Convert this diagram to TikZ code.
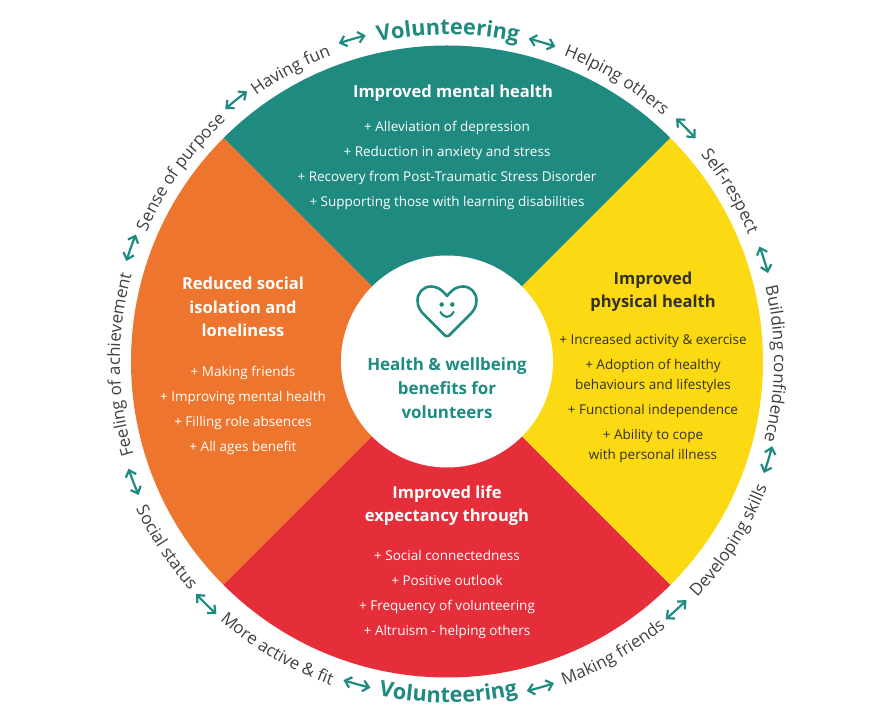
\documentclass[tikz,border=0pt]{standalone}
\usepackage{fontspec}
\setmainfont{Open Sans}
\usetikzlibrary{decorations.text,arrows.meta}

\definecolor{wheelteal}{HTML}{1F8A80}
\definecolor{wheelorange}{HTML}{EE752D}
\definecolor{wheelyellow}{HTML}{FBD913}
\definecolor{wheelred}{HTML}{E62E3A}
\definecolor{ringgrey}{HTML}{404040}
\definecolor{yellowink}{HTML}{33302A}

\newcommand{\ringfont}{\fontsize{17}{20}\selectfont\color{ringgrey}}
\newcommand{\volfont}{\fontsize{21.7}{24}\selectfont\bfseries\color{wheelteal}}
% text running clockwise over the top half, anticlockwise under the bottom half
\newcommand{\ringover}[3]{\path[decorate,decoration={text along path,text align=center,text={|#3|#2}}] (#1+70:327pt) arc (#1+70:#1-70:327pt);}
\newcommand{\ringunder}[4][344]{\path[decorate,decoration={text along path,text align=center,text={|#4|#3}}] (#2-70:#1pt) arc (#2-70:#2+70:#1pt);}

\begin{document}
\begin{tikzpicture}[
        x=1pt, y=1pt,
        headtext/.style={align=center, font=\fontsize{16.5}{23.5}\selectfont\bfseries},
        listtext/.style={align=center, font=\fontsize{13.5}{20}\selectfont},
        looselist/.style={listtext, font=\fontsize{13.5}{25}\selectfont},
        ringarrow/.style={draw=wheelteal, line width=2.2pt, {Straight Barb[length=6pt,width=11pt]}-{Straight Barb[length=6pt,width=11pt]}},
    ]
    \useasboundingbox (-447,-355.5) rectangle (424,361.5);

    % the four quarters
    \fill[wheelteal] (0,0) -- (45:316pt) arc (45:135:316pt) -- cycle;
    \fill[wheelorange] (0,0) -- (135:316pt) arc (135:225:316pt) -- cycle;
    \fill[wheelred] (0,0) -- (225:316pt) arc (225:315:316pt) -- cycle;
    \fill[wheelyellow] (0,0) -- (-45:316pt) arc (-45:45:316pt) -- cycle;
    \fill[white] (0,0) circle (106pt);

    % heart
    \draw[wheelteal, line width=2.6pt, line join=round]
        (0,65.5) .. controls (6,73) and (11,75) .. (16,75)
        .. controls (24,75) and (29.5,68.5) .. (29.5,61)
        .. controls (29.5,54) and (26,50) .. (23,47) -- (2,26)
        .. controls (1,25) and (-1,25) .. (-2,26) -- (-23,47)
        .. controls (-26,50) and (-29.5,54) .. (-29.5,61)
        .. controls (-29.5,68.5) and (-24,75) .. (-16,75)
        .. controls (-11,75) and (-6,73) .. cycle;
    \fill[wheelteal] (-5.3,57) circle (2.3pt) (5.3,57) circle (2.3pt);
    \draw[wheelteal, line width=2.2pt, line cap=round] (-6.5,49.5) .. controls (-3,43) and (3,43) .. (6.5,49.5);

    \node[headtext, text=wheelteal, font=\fontsize{16.9}{24}\selectfont\bfseries] (centre) at (0,-26.5) {Health \& wellbeing\\benefits for\\volunteers};

    \node[headtext, text=white] (mentaltitle) at (6,268) {Improved mental health};
    \node[looselist, text=white] (mentallist) at (0,196.5) {+ Alleviation of depression\\+ Reduction in anxiety and stress\\+ Recovery from Post-Traumatic Stress Disorder\\+ Supporting those with learning disabilities};

    \node[headtext, text=yellowink] (physicaltitle) at (206,70) {Improved\\physical health};
    \node[listtext, text=yellowink] (physicallist) at (206,-36.5) {+ Increased activity \& exercise\\[5pt]+ Adoption of healthy\\behaviours and lifestyles\\[5pt]+ Functional independence\\[5pt]+ Ability to cope\\with personal illness};

    \node[headtext, text=white] (lonelytitle) at (-204,54.5) {Reduced social\\isolation and\\loneliness};
    \node[looselist, text=white] (lonelylist) at (-204,-49) {+ Making friends\\+ Improving mental health\\+ Filling role absences\\+ All ages benefit};

    \node[headtext, text=white] (lifetitle) at (0,-144) {Improved life\\expectancy through};
    \node[looselist, text=white] (lifelist) at (0,-232.5) {+ Social connectedness\\+ Positive outlook\\+ Frequency of volunteering\\+ Altruism - helping others};

    % ring of words
    \ringover{89.8}{Volunteering}{\volfont}
    \ringunder[341]{270.2}{Volunteering}{\volfont}
    \ringover{118.2}{Having fun}{\ringfont}
    \ringover{58.9}{Helping others}{\ringfont}
    \ringover{144.6}{Sense of purpose}{\ringfont}
    \ringover{31}{Self-respect}{\ringfont}
    \ringover{180.6}{Feeling of achievement}{\ringfont}
    \ringover{-0.4}{Building confidence}{\ringfont}
    \ringunder{-32.4}{Developing skills}{\ringfont}
    \ringunder{-60.3}{Making friends}{\ringfont}
    \ringunder{239.5}{More active {\&} fit}{\ringfont}
    \ringunder{213.5}{Social status}{\ringfont}

    % arrows between the words
    \foreach \ang/\rad in {106.4/336,73.4/333,128.9/336,44.3/334,160.2/336,17.8/333,-17/336,-47.3/338,201/336,225.2/342,254.4/335,286/339}{
        \draw[ringarrow] (\ang+2.4:\rad pt) arc (\ang+2.4:\ang-2.4:\rad pt);
    }
\end{tikzpicture}
\end{document}
